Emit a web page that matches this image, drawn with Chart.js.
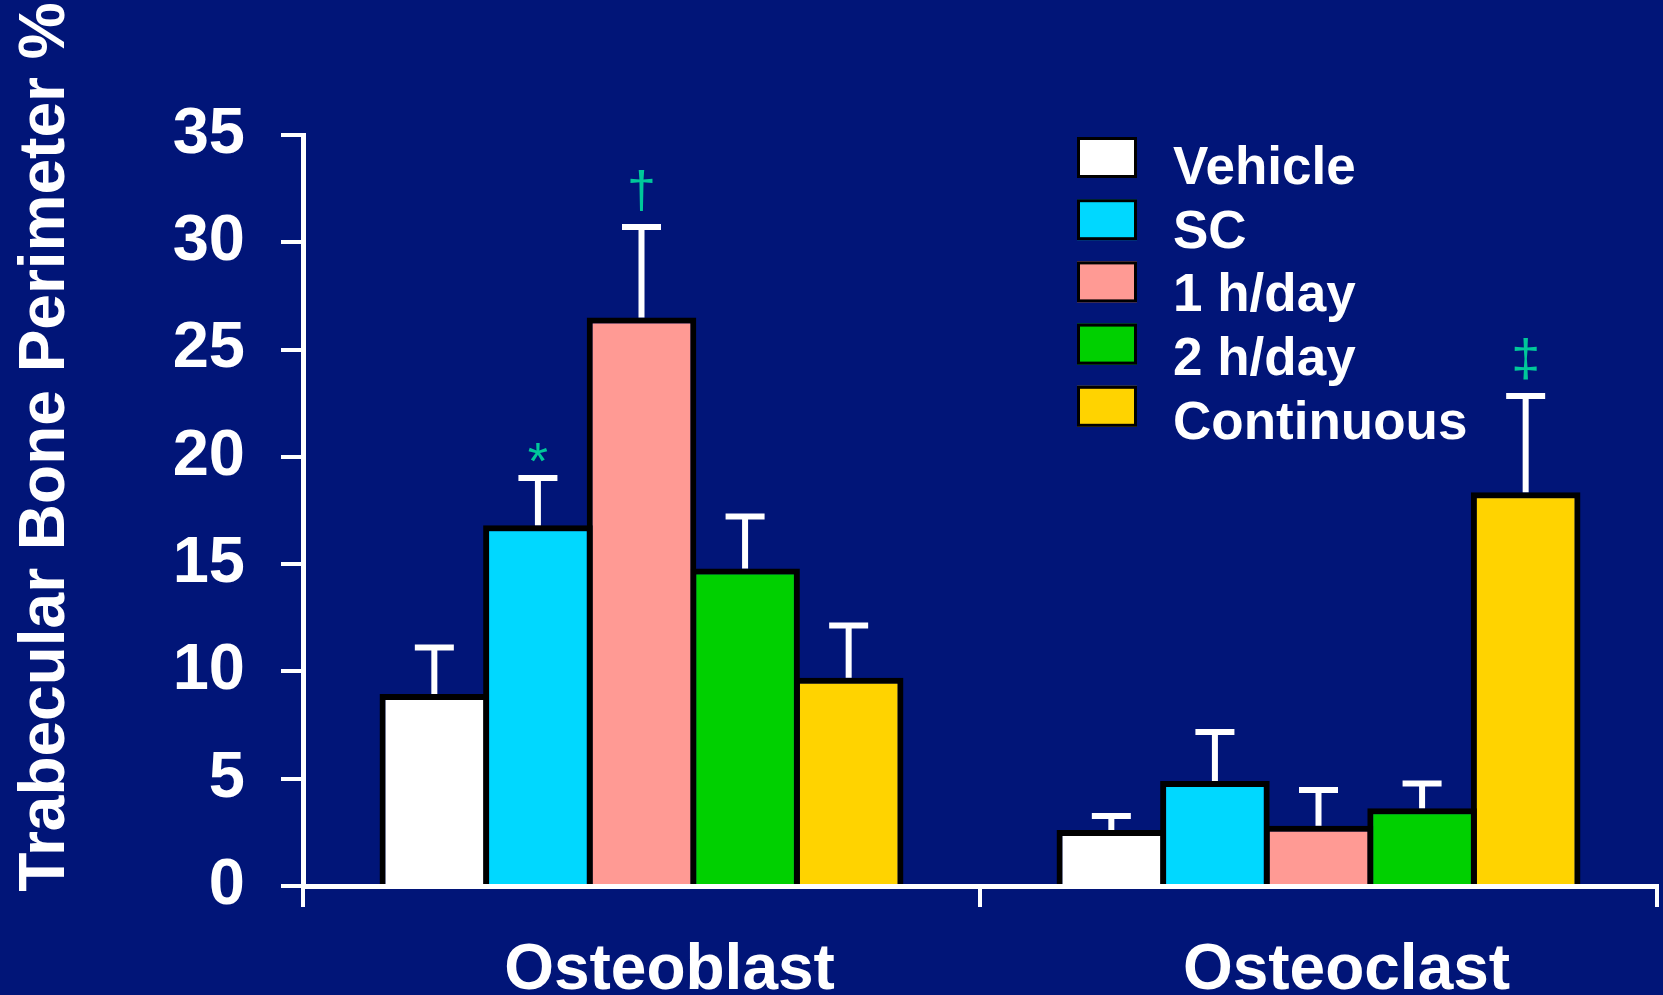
<!DOCTYPE html>
<html>
<head>
<meta charset="utf-8">
<script src="https://cdn.jsdelivr.net/npm/chart.js@4.4.1/dist/chart.umd.min.js"></script>
<style>
  html, body { margin: 0; padding: 0; background: #011578; overflow: hidden; }
  #wrap { width: 1663px; height: 995px; }
</style>
</head>
<body>
<div id="wrap"><canvas id="boneChart"></canvas></div>
<script>
const categories = ['Osteoblast', 'Osteoclast'];
const yTitleText = 'Trabecular Bone Perimeter %';

// means and SEM
const vehicle = [8.95, 2.61];
const vehicleErr = [2.17, 0.65];
const sc = [16.81, 4.89];
const scErr = [2.2, 2.29];
const oneHour = [26.5, 2.81];
const oneHourErr = [4.21, 1.66];
const twoHour = [14.8, 3.62];
const twoHourErr = [2.42, 1.16];
const continuous = [9.7, 18.35];
const continuousErr = [2.44, 4.49];

// significance marks above the error bars
const scMarks = ['*', ''];
const oneHourMarks = ['\u2020', ''];
const continuousMarks = ['', '\u2021'];

const yTicks = [0, 5, 10, 15, 20, 25, 30, 35];

const fontFamily = '"Liberation Sans", Arial, Helvetica, sans-serif';
Chart.defaults.font.family = fontFamily;
Chart.defaults.color = '#ffffff';

// white error bars + green significance symbols
const errorBars = {
    id: 'errorBars',
    afterDatasetsDraw(chart) {
        const c = chart.ctx;
        const y = chart.scales.y;
        c.save();
        c.strokeStyle = '#ffffff';
        c.lineWidth = 6;
        chart.data.datasets.forEach((ds, i) => {
            chart.getDatasetMeta(i).data.forEach((bar, j) => {
                const top = y.getPixelForValue(ds.data[j] + ds.errors[j]);
                c.beginPath();
                c.moveTo(bar.x, bar.y);
                c.lineTo(bar.x, top);
                c.moveTo(bar.x - 19.5, top);
                c.lineTo(bar.x + 19.5, top);
                c.stroke();
                const mark = ds.marks ? ds.marks[j] : '';
                if (mark) {
                    c.font = '52px ' + fontFamily;
                    c.fillStyle = '#00c89a';
                    c.textAlign = 'center';
                    c.textBaseline = 'alphabetic';
                    const m = c.measureText(mark);
                    c.fillText(mark, bar.x, top - 3 - 13 - m.actualBoundingBoxDescent);
                }
            });
        });
        c.restore();
    }
};

// rotated y title, sits higher than the plot centre in the original
const yTitle = {
    id: 'yTitle',
    afterDraw(chart) {
        const c = chart.ctx;
        c.save();
        c.translate(64, 447);
        c.rotate(-Math.PI / 2);
        c.font = 'bold 64px ' + fontFamily;
        c.fillStyle = '#ffffff';
        c.textAlign = 'center';
        c.textBaseline = 'alphabetic';
        c.fillText(yTitleText, 0, 0);
        c.restore();
    }
};

// legend inside the plot, top right
const boxLegend = {
    id: 'boxLegend',
    afterDraw(chart) {
        const c = chart.ctx;
        c.save();
        c.font = 'bold 53px ' + fontFamily;
        c.textAlign = 'left';
        c.textBaseline = 'alphabetic';
        chart.data.datasets.forEach((ds, i) => {
            const top = 137 + i * 62.2;
            c.fillStyle = ds.backgroundColor;
            c.fillRect(1077, top, 60, 41);
            c.strokeStyle = '#000000';
            c.lineWidth = 3;
            c.strokeRect(1078.5, top + 1.5, 57, 38);
            c.fillStyle = '#ffffff';
            c.fillText(ds.label, 1173, 184 + i * 63.7);
        });
        c.restore();
    }
};

let ctx = document.getElementById('boneChart').getContext('2d');

const barStyle = {
    borderColor: '#000000',
    borderWidth: 6,
    categoryPercentage: 0.765,
    barPercentage: 1.058
};

let myChart = new Chart(ctx, {
    type: 'bar',
    data: {
        labels: categories,
        datasets: [
            { label: 'Vehicle', data: vehicle, errors: vehicleErr, backgroundColor: '#ffffff', ...barStyle },
            { label: 'SC', data: sc, errors: scErr, marks: scMarks, backgroundColor: '#00d8ff', ...barStyle },
            { label: '1 h/day', data: oneHour, errors: oneHourErr, marks: oneHourMarks, backgroundColor: '#ff9a94', ...barStyle },
            { label: '2 h/day', data: twoHour, errors: twoHourErr, backgroundColor: '#00d000', ...barStyle },
            { label: 'Continuous', data: continuous, errors: continuousErr, marks: continuousMarks, backgroundColor: '#ffd300', ...barStyle }
        ]
    },
    options: {
        responsive: true,
        maintainAspectRatio: false,
        animation: false,
        layout: { padding: { top: 135, right: 6, left: 0, bottom: 0 } },
        plugins: {
            legend: { display: false },
            tooltip: { enabled: false }
        },
        scales: {
            x: {
                grid: {
                    offset: true,
                    drawOnChartArea: false,
                    color: '#ffffff',
                    lineWidth: 4,
                    tickLength: 21
                },
                border: { color: '#ffffff', width: 5 },
                ticks: {
                    color: '#ffffff',
                    font: { size: 64, weight: 'bold' },
                    padding: 26,
                    labelOffset: 28,
                    maxRotation: 0
                },
                afterFit: (scale) => { scale.height = 109; }
            },
            y: {
                min: 0,
                max: 35,
                afterBuildTicks: (scale) => { scale.ticks = yTicks.map(v => ({ value: v })); },
                grid: {
                    drawOnChartArea: false,
                    color: '#ffffff',
                    lineWidth: 4,
                    tickLength: 22
                },
                border: { color: '#ffffff', width: 5 },
                ticks: {
                    color: '#ffffff',
                    font: { size: 65, weight: 'bold' },
                    padding: 36
                },
                afterFit: (scale) => { scale.width = 303; }
            }
        }
    },
    plugins: [errorBars, yTitle, boxLegend]
});
</script>
</body>
</html>
